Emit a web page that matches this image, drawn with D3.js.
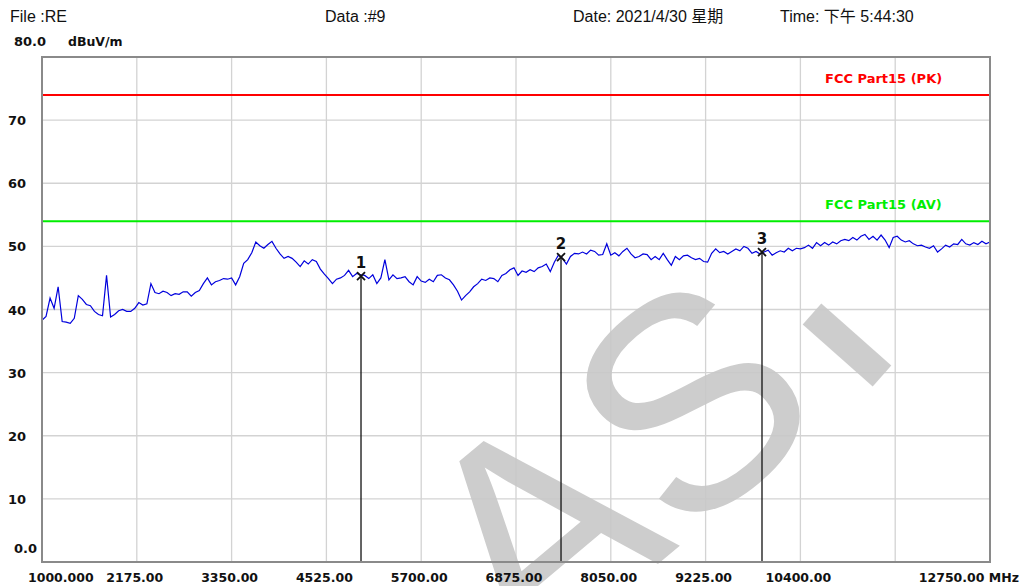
<!DOCTYPE html>
<html><head><meta charset="utf-8">
<script src="https://cdn.jsdelivr.net/npm/d3@7"></script>
<style>html,body{margin:0;padding:0;background:#fff;overflow:hidden}</style>
</head><body>
<svg id="c" width="1025" height="586"></svg>
<script>
// ---- data ----
const freqStart = 1000, freqStop = 12750, freqStep = 50; // MHz
const levels = [
38.3,38.9,41.8,40.2,43.6,38.1,38.0,37.8,38.6,42.2,41.6,40.8,40.6,39.7,39.2,39.0,45.4,38.8,39.2,39.8,
40.0,39.7,39.7,40.2,41.1,40.7,40.9,44.1,42.7,42.5,42.9,42.7,42.2,42.5,42.4,42.8,42.8,42.1,42.7,43.0,
44.1,45.0,43.9,44.4,44.6,44.9,44.8,45.0,43.9,45.2,47.3,47.9,49.0,50.7,50.1,49.7,50.3,50.8,49.7,48.8,
48.1,48.4,48.1,47.5,46.8,47.7,47.2,47.9,47.6,46.4,45.6,44.9,44.1,44.8,45.0,45.4,46.2,45.2,45.7,45.5,
45.4,44.9,45.5,44.1,45.0,47.9,44.7,45.5,44.9,45.0,45.2,44.4,43.9,45.2,44.5,44.3,44.8,44.4,45.4,45.5,
45.0,44.7,43.9,42.9,41.5,42.2,42.8,43.6,44.1,44.8,44.6,45.0,44.9,44.4,45.4,45.7,46.3,46.6,
45.4,46.1,45.9,46.3,46.0,46.6,46.8,47.2,46.0,47.5,48.6,48.1,47.2,48.4,48.9,48.8,49.1,48.8,49.4,49.2,
48.6,48.7,50.4,48.6,49.0,48.5,49.2,49.7,48.8,48.2,48.4,48.8,48.7,47.9,48.4,47.9,48.9,47.9,47.0,48.4,
47.9,48.5,48.6,48.2,47.9,48.1,47.6,47.5,48.9,49.6,49.0,49.2,48.8,49.2,49.6,49.3,50.0,49.7,
48.9,49.2,48.8,49.1,49.4,48.6,49.0,49.3,49.1,49.7,49.3,49.7,49.6,49.8,50.2,49.7,50.6,50.1,50.6,50.2,
50.7,50.4,50.9,51.1,50.9,51.4,51.0,51.6,51.9,51.1,51.6,51.0,51.8,51.0,49.8,51.4,51.6,51.0,50.7,50.9,
50.4,50.1,50.2,49.9,49.7,50.1,49.1,49.6,50.2,49.9,50.4,50.3,51.1,50.4,50.2,50.6,50.3,50.8,50.4,50.7
];
const limitNames = ["FCC Part15 (PK)", "FCC Part15 (AV)"];
const limitValues = [74, 54];
const limitColors = ["#ff0000", "#00ee00"];
const markerIds = ["1", "2", "3"];
const markerFreqs = [4954, 7433, 9924];
const markerLevels = [45.3, 48.3, 49.1];
const xTicks = [1000, 2175, 3350, 4525, 5700, 6875, 8050, 9225, 10400, 11575, 12750];
const xTickLabels = ["1000.000", "2175.00", "3350.00", "4525.00", "5700.00", "6875.00", "8050.00", "9225.00", "10400.00", "", "12750.00 MHz"];
const yTicks = [0, 10, 20, 30, 40, 50, 60, 70, 80];
const yTickLabels = ["0.0", "10", "20", "30", "40", "50", "60", "70", "80.0"];
const header = [["File :RE", 10], ["Data :#9", 325], ["Date: 2021/4/30 星期", 573], ["Time: 下午 5:44:30", 780]];

// ---- drawing ----
const L = 42, R = 990, T = 57, B = 562;
const svg = d3.select("#c");
const x = d3.scaleLinear().domain([freqStart, freqStop]).range([L, R]);
const y = d3.scaleLinear().domain([0, 80]).range([B, T]);
const pts = levels.map((v, i) => [freqStart + i * freqStep, v]);

// header
svg.selectAll("text.hdr").data(header).join("text").attr("class", "hdr")
  .attr("x", d => d[1]).attr("y", 22)
  .attr("font-family", "'Liberation Sans','Noto Sans CJK SC',sans-serif").attr("font-size", 16)
  .attr("fill", "#111").text(d => d[0]);

// grid
const g = svg.append("g");
g.selectAll("line.vg").data(xTicks.slice(1, -1)).join("line")
  .attr("x1", d => x(d)).attr("x2", d => x(d)).attr("y1", T).attr("y2", B)
  .attr("stroke", "#d3d3d3").attr("stroke-width", 1.3);
g.selectAll("line.hg").data(yTicks.slice(1, -1)).join("line")
  .attr("x1", L).attr("x2", R).attr("y1", d => y(d)).attr("y2", d => y(d))
  .attr("stroke", "#d3d3d3").attr("stroke-width", 1.3);

// watermark
const wm = svg.append("g").attr("fill", "#c8c8c8").attr("stroke", "#c8c8c8").attr("opacity", 0.9);
wm.append("text").attr("transform", "translate(527,674) rotate(-40)")
  .attr("font-family", "'Liberation Sans',sans-serif").attr("font-size", 300)
  .attr("stroke", "none").text("AS");
wm.append("line").attr("x1", 812).attr("y1", 314).attr("x2", 882).attr("y2", 376)
  .attr("stroke-width", 28);

// limit lines
limitValues.forEach((v, i) => {
  svg.append("line").attr("x1", L).attr("x2", R).attr("y1", y(v)).attr("y2", y(v))
    .attr("stroke", limitColors[i]).attr("stroke-width", 2);
  svg.append("text").attr("x", 825).attr("y", y(v) - 12)
    .attr("font-family", "'DejaVu Sans',sans-serif").attr("font-weight", "bold").attr("font-size", 13)
    .attr("fill", limitColors[i]).text(limitNames[i]);
});

// trace
svg.append("path").datum(pts)
  .attr("d", d3.line().x(d => x(d[0])).y(d => y(d[1])))
  .attr("fill", "none").attr("stroke", "#0000dd").attr("stroke-width", 1.2);

// markers
markerFreqs.forEach((f, i) => {
  const mx = x(f), my = y(markerLevels[i]);
  svg.append("line").attr("x1", mx).attr("x2", mx).attr("y1", my).attr("y2", B)
    .attr("stroke", "#111").attr("stroke-width", 1.3);
  svg.append("path").attr("d", `M${mx-4},${my-4}L${mx+4},${my+4}M${mx+4},${my-4}L${mx-4},${my+4}`)
    .attr("stroke", "#111").attr("stroke-width", 1.8);
  svg.append("text").attr("x", mx).attr("y", my - 8).attr("text-anchor", "middle")
    .attr("font-family", "'DejaVu Sans',sans-serif").attr("font-size", 15).attr("font-weight", "bold")
    .attr("fill", "#111").text(markerIds[i]);
});

// border
svg.append("rect").attr("x", L).attr("y", T).attr("width", R - L).attr("height", B - T)
  .attr("fill", "none").attr("stroke", "#8a8a8a").attr("stroke-width", 2);

// y labels
svg.selectAll("text.yl").data(yTicks).join("text").attr("class", "yl")
  .attr("x", (d, i) => (d === 0 || d === 80) ? 14 : 8)
  .attr("y", d => d === 80 ? 46 : d === 0 ? y(d) - 9 : y(d) + 5)
  .attr("font-family", "'DejaVu Sans',sans-serif").attr("font-weight", "bold").attr("font-size", 13)
  .attr("fill", "#111").text((d, i) => yTickLabels[i]);
svg.append("text").attr("x", 68).attr("y", 46)
  .attr("font-family", "'DejaVu Sans',sans-serif").attr("font-weight", "bold").attr("font-size", 12.5)
  .attr("fill", "#111").text("dBuV/m");

// x labels
svg.selectAll("text.xl").data(xTicks).join("text").attr("class", "xl")
  .attr("x", (d, i) => i === 0 ? 28 : i === xTicks.length - 1 ? 1019 : x(d) - 2)
  .attr("y", 582)
  .attr("text-anchor", (d, i) => i === 0 ? "start" : i === xTicks.length - 1 ? "end" : "middle")
  .attr("font-family", "'DejaVu Sans',sans-serif").attr("font-weight", "bold").attr("font-size", 12.5)
  .attr("fill", "#111").text((d, i) => xTickLabels[i]);
</script>
</body></html>
